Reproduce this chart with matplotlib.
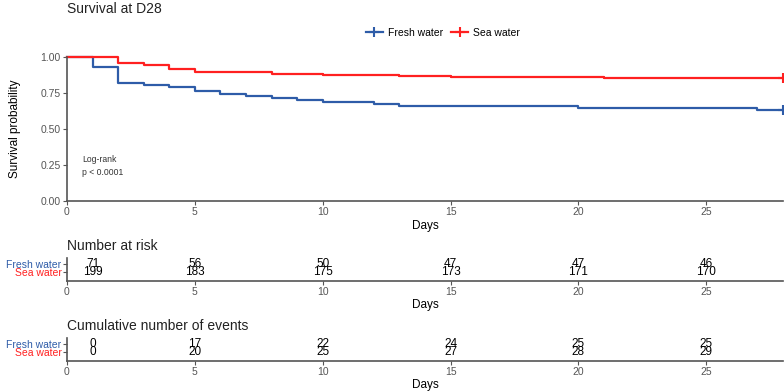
import matplotlib
matplotlib.use("Agg")
import matplotlib.pyplot as plt

plt.rcParams['font.family'] = ['Liberation Sans', 'DejaVu Sans']

# Kaplan-Meier steps
fresh_t = [0, 1, 2, 3, 4, 5, 6, 7, 8, 9, 10, 12, 13, 20, 27, 28]
fresh_s = [1, 0.930, 0.817, 0.803, 0.789, 0.761, 0.746, 0.732, 0.718, 0.704,
           0.690, 0.676, 0.662, 0.648, 0.634, 0.634]
sea_t = [0, 2, 3, 4, 5, 8, 9, 10, 13, 15, 18, 21, 28]
sea_s = [1, 0.955, 0.945, 0.920, 0.899, 0.884, 0.879, 0.874, 0.869, 0.864,
         0.859, 0.854, 0.854]

groups = ["Fresh water", "Sea water"]
colors = ["#2E5CA8", "#FF2020"]

table_days = [1, 5, 10, 15, 20, 25]
risk_fresh = [71, 56, 50, 47, 47, 46]
risk_sea = [199, 183, 175, 173, 171, 170]
events_fresh = [0, 17, 22, 24, 25, 25]
events_sea = [0, 20, 25, 27, 28, 29]

W, H = 784, 391
fig = plt.figure(figsize=(W / 100, H / 100), dpi=100)


def box(x0, y0, x1, y1):
    # pixel box (top-left origin) -> figure fraction
    return [x0 / W, 1 - y1 / H, (x1 - x0) / W, (y1 - y0) / H]


grey = "#555555"
spine_c = "#555555"
tick_fs = 7.5

# ---- survival curve
ax = fig.add_axes(box(67, 57, 783, 201))
for t, s, c in [(fresh_t, fresh_s, colors[0]), (sea_t, sea_s, colors[1])]:
    ax.step(t, s, where="post", color=c, lw=1.6, clip_on=False)
    ax.plot(t[-1], s[-1], marker="+", ms=7, mew=1.5, color=c, clip_on=False)
ax.set_xlim(0, 28)
ax.set_ylim(0, 1)
ax.set_yticks([0, 0.25, 0.5, 0.75, 1.0])
ax.set_yticklabels(["0.00", "0.25", "0.50", "0.75", "1.00"])
ax.set_xticks([0, 5, 10, 15, 20, 25])
for sp in ["top", "right"]:
    ax.spines[sp].set_visible(False)
for sp in ["left", "bottom"]:
    ax.spines[sp].set_color(spine_c)
    ax.spines[sp].set_linewidth(1.2)
ax.tick_params(labelsize=tick_fs, colors=grey, length=3, width=0.8, pad=1.5)
ax.set_ylabel("Survival probability", fontsize=8.5, labelpad=14)
ax.set_xlabel("Days", fontsize=8.5, labelpad=2)
ax.text(0.6, 0.29, "Log-rank", fontsize=6.2, color="#333333", va="center")
ax.text(0.6, 0.195, "p < 0.0001", fontsize=6.2, color="#333333", va="center")

fig.text(67 / W, 1 - 9 / H, "Survival at D28", fontsize=10, va="center", ha="left",
         color="#222222")

# legend
handles = [plt.Line2D([], [], color=c, lw=1.6, marker="+", ms=7, mew=1.5)
           for c in colors]
fig.legend(handles, groups, loc="center", bbox_to_anchor=(443 / W, 1 - 33 / H),
           ncol=2, frameon=False, fontsize=7.5, handlelength=1.6,
           handletextpad=0.5, columnspacing=0.8)


# ---- tables
def table(top, title, v_fresh, v_sea):
    axt = fig.add_axes(box(67, top, 783, top + 23))
    axt.set_xlim(0, 28)
    axt.set_ylim(0, 1)
    yf, ys = 0.75, 0.38
    for x, a, b in zip(table_days, v_fresh, v_sea):
        axt.text(x, yf, str(a), ha="center", va="center", fontsize=8.5)
        axt.text(x, ys, str(b), ha="center", va="center", fontsize=8.5)
    axt.set_yticks([yf, ys])
    axt.set_yticklabels(groups, fontsize=7.5)
    for lbl, c in zip(axt.get_yticklabels(), colors):
        lbl.set_color(c)
    axt.set_xticks([0, 5, 10, 15, 20, 25])
    for sp in ["top", "right"]:
        axt.spines[sp].set_visible(False)
    for sp in ["left", "bottom"]:
        axt.spines[sp].set_color(spine_c)
        axt.spines[sp].set_linewidth(1.2)
    axt.tick_params(axis="x", labelsize=tick_fs, colors=grey, length=3,
                    width=0.8, pad=1.5)
    axt.tick_params(axis="y", length=3, width=0.8, color=spine_c, pad=1)
    axt.set_xlabel("Days", fontsize=8.5, labelpad=1)
    fig.text(67 / W, 1 - (top - 12) / H, title, fontsize=10, va="center",
             ha="left", color="#222222")


table(258, "Number at risk", risk_fresh, risk_sea)
table(338, "Cumulative number of events", events_fresh, events_sea)

fig.savefig("out.png", dpi=100)
